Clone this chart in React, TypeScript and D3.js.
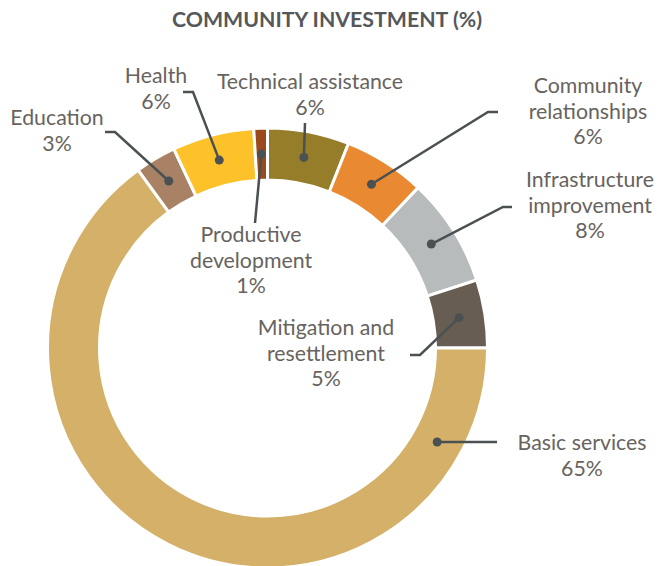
import React from "react";
import * as d3 from "d3";

const categories = [
  "Technical assistance",
  "Community relationships",
  "Infrastructure improvement",
  "Mitigation and resettlement",
  "Basic services",
  "Education",
  "Health",
  "Productive development",
];
const values = [6, 6, 8, 5, 65, 3, 6, 1];
const colors = ["#957d2a", "#e98a32", "#b7bbbc", "#675d52", "#d4b068", "#a98266", "#fdc12a", "#9b4a1e"];
const labelLines = [
  ["Technical assistance"],
  ["Community", "relationships"],
  ["Infrastructure", "improvement"],
  ["Mitigation and", "resettlement"],
  ["Basic services"],
  ["Education"],
  ["Health"],
  ["Productive", "development"],
];

// layout: label center x, first baseline y, leader path points after the dot, optional anchor angle (deg)
const layout: Record<string, { x: number; y: number; pts: [number, number][]; angle?: number }> = {
  "Technical assistance": { x: 310, y: 89, pts: [[305, 123]] },
  "Community relationships": { x: 588, y: 93, pts: [[488, 112], [498, 112]] },
  "Infrastructure improvement": { x: 590, y: 187, pts: [[503, 207], [512, 207]] },
  "Mitigation and resettlement": { x: 326, y: 335, pts: [[420, 355], [410, 355]] },
  "Basic services": { x: 582, y: 450, pts: [[497, 442]], angle: 119 },
  Education: { x: 57, y: 125, pts: [[115, 132], [105, 132]] },
  Health: { x: 156, y: 83, pts: [[193, 92], [183, 92]] },
  "Productive development": { x: 251, y: 242, pts: [[255, 223]] },
};

const W = 657, H = 566;
const cx = 267.5, cy = 348;
const rOuter = 220, rInner = 168;
const LINE_H = 25.5;

export default function App() {
  const pie = d3.pie<number>().sort(null).value((d) => d)(values);
  const arc = d3.arc<d3.PieArcDatum<number>>().innerRadius(rInner).outerRadius(rOuter);
  const rMid = (rInner + rOuter) / 2;
  const font = "Lato, 'Open Sans', sans-serif";

  return (
    <svg width={W} height={H} style={{ position: "absolute", left: 0, top: 0, background: "#fff" }}>
      <text x={327} y={27} textAnchor="middle" fontFamily={font} fontWeight={700} fontSize={21.3} fill="#55585a">
        COMMUNITY INVESTMENT (%)
      </text>
      <g transform={`translate(${cx},${cy})`}>
        {pie.map((p, i) => (
          <path key={i} d={arc(p) || ""} fill={colors[i]} stroke="#fff" strokeWidth={3} />
        ))}
      </g>
      {pie.map((p, i) => {
        const name = categories[i];
        const L = layout[name];
        let dx: number, dy: number;
        if (L.angle !== undefined) {
          const a = (L.angle * Math.PI) / 180;
          dx = cx + rMid * Math.sin(a);
          dy = cy - rMid * Math.cos(a);
        } else {
          const [ax, ay] = arc.centroid(p);
          dx = cx + ax;
          dy = cy + ay;
        }
        const line = d3.line()([[dx, dy], ...L.pts]) || "";
        const lines = [...labelLines[i], `${values[i]}%`];
        return (
          <g key={name}>
            <path d={line} fill="none" stroke="#4b5052" strokeWidth={2.5} />
            <circle cx={dx} cy={dy} r={4.5} fill="#4b5052" />
            {lines.map((t, j) => (
              <text
                key={j}
                x={L.x}
                y={L.y + j * LINE_H}
                textAnchor="middle"
                fontFamily={font}
                fontSize={21.3}
                fill="#67635e"
              >
                {t}
              </text>
            ))}
          </g>
        );
      })}
    </svg>
  );
}
